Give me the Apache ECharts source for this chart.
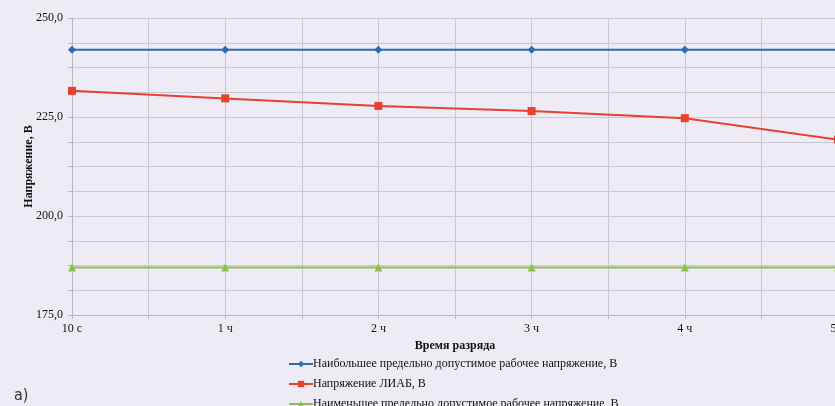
<!DOCTYPE html>
<html>
<head>
<meta charset="utf-8">
<script src="https://cdn.jsdelivr.net/npm/echarts@6/dist/echarts.min.js"></script>
<style>
  html, body { margin: 0; padding: 0; background: #eeebf4; }
  #chart { width: 835px; height: 406px; }
</style>
</head>
<body>
<div id="chart"></div>
<script>
// Discharge time points
const categories = ['10 с', '1 ч', '2 ч', '3 ч', '4 ч', '5 ч'];
// Upper permissible working voltage, V
const upperLimit = [242, 242, 242, 242, 242, 242];
// Battery voltage during discharge, V
const batteryVoltage = [231.6, 229.7, 227.8, 226.5, 224.7, 219.3];
// Lower permissible working voltage, V
const lowerLimit = [187, 187, 187, 187, 187, 187];

const seriesNames = [
  'Наибольшее предельно допустимое рабочее напряжение, В',
  'Напряжение ЛИАБ, В',
  'Наименьшее предельно допустимое рабочее напряжение, В'
];

const serif = '"Liberation Serif", "DejaVu Serif", serif';
const gridColor = '#c9c7cf';

const chart = echarts.init(document.getElementById('chart'));
chart.setOption({
  backgroundColor: '#eeebf4',
  animation: false,
  textStyle: { fontFamily: serif },
  grid: { left: 72, right: -3, top: 18, bottom: 91, containLabel: false, outerBoundsMode: 'none' },
  xAxis: [
    {
      type: 'category',
      data: categories,
      boundaryGap: false,
      position: 'bottom',
      name: 'Время разряда',
      nameLocation: 'middle',
      nameGap: 25,
      nameTextStyle: { fontFamily: serif, fontWeight: 'bold', fontSize: 12, color: '#111' },
      axisLine: { lineStyle: { color: '#b9b7bf', width: 1 } },
      axisTick: { show: false },
      splitLine: { show: false },
      axisLabel: { color: '#111', fontFamily: serif, fontSize: 12, margin: 8 }
    },
    {
      // helper axis: gridlines at every half step of the category axis
      type: 'value',
      min: 0,
      max: 5,
      interval: 0.5,
      position: 'bottom',
      axisLine: { show: false },
      axisTick: { show: true, length: 4, lineStyle: { color: '#b9b7bf' } },
      axisLabel: { show: false },
      splitLine: { show: true, lineStyle: { color: gridColor, width: 1 } }
    }
  ],
  yAxis: {
    type: 'value',
    min: 175,
    max: 250,
    interval: 6.25,
    name: 'Напряжение, В',
    nameLocation: 'middle',
    nameGap: 37,
    nameMoveOverlap: false,
    nameRotate: 90,
    nameTextStyle: { fontFamily: serif, fontWeight: 'bold', fontSize: 12, color: '#111' },
    axisLine: { show: true, lineStyle: { color: '#b9b7bf' } },
    axisTick: { show: true, length: 4, lineStyle: { color: '#b9b7bf' } },
    splitLine: { show: true, lineStyle: { color: gridColor, width: 1 } },
    axisLabel: {
      color: '#111',
      fontFamily: serif,
      fontSize: 12,
      margin: 9,
      formatter: v => (Math.abs(v % 25) < 1e-6 ? v.toFixed(1).replace('.', ',') : '')
    }
  },
  legend: {
    orient: 'vertical',
    left: 283,
    top: 353,
    height: 80,
    itemGap: 8,
    itemWidth: 24,
    itemHeight: 8,
    textStyle: { fontFamily: serif, fontSize: 12, color: '#111', padding: [0, 0, 0, -5] },
    data: seriesNames
  },
  graphic: [
    {
      type: 'text',
      left: 14,
      top: 388,
      style: { text: 'а)', font: '16px "DejaVu Sans Condensed", "DejaVu Sans", sans-serif', fill: '#333' }
    }
  ],
  series: [
    {
      name: seriesNames[0],
      type: 'line',
      xAxisIndex: 0,
      data: upperLimit,
      symbol: 'diamond',
      symbolSize: 8,
      color: '#2a6db5',
      lineStyle: { width: 2, color: '#2a6db5' },
      itemStyle: { color: '#2a6db5' }
    },
    {
      name: seriesNames[1],
      type: 'line',
      xAxisIndex: 0,
      data: batteryVoltage,
      symbol: 'rect',
      symbolSize: 8,
      color: '#e8412f',
      lineStyle: { width: 2, color: '#e8412f' },
      itemStyle: { color: '#e8412f' }
    },
    {
      name: seriesNames[2],
      type: 'line',
      xAxisIndex: 0,
      data: lowerLimit,
      symbol: 'triangle',
      symbolSize: 8,
      color: '#8cc152',
      lineStyle: { width: 2, color: '#8cc152' },
      itemStyle: { color: '#8cc152' }
    }
  ]
});
</script>
</body>
</html>
